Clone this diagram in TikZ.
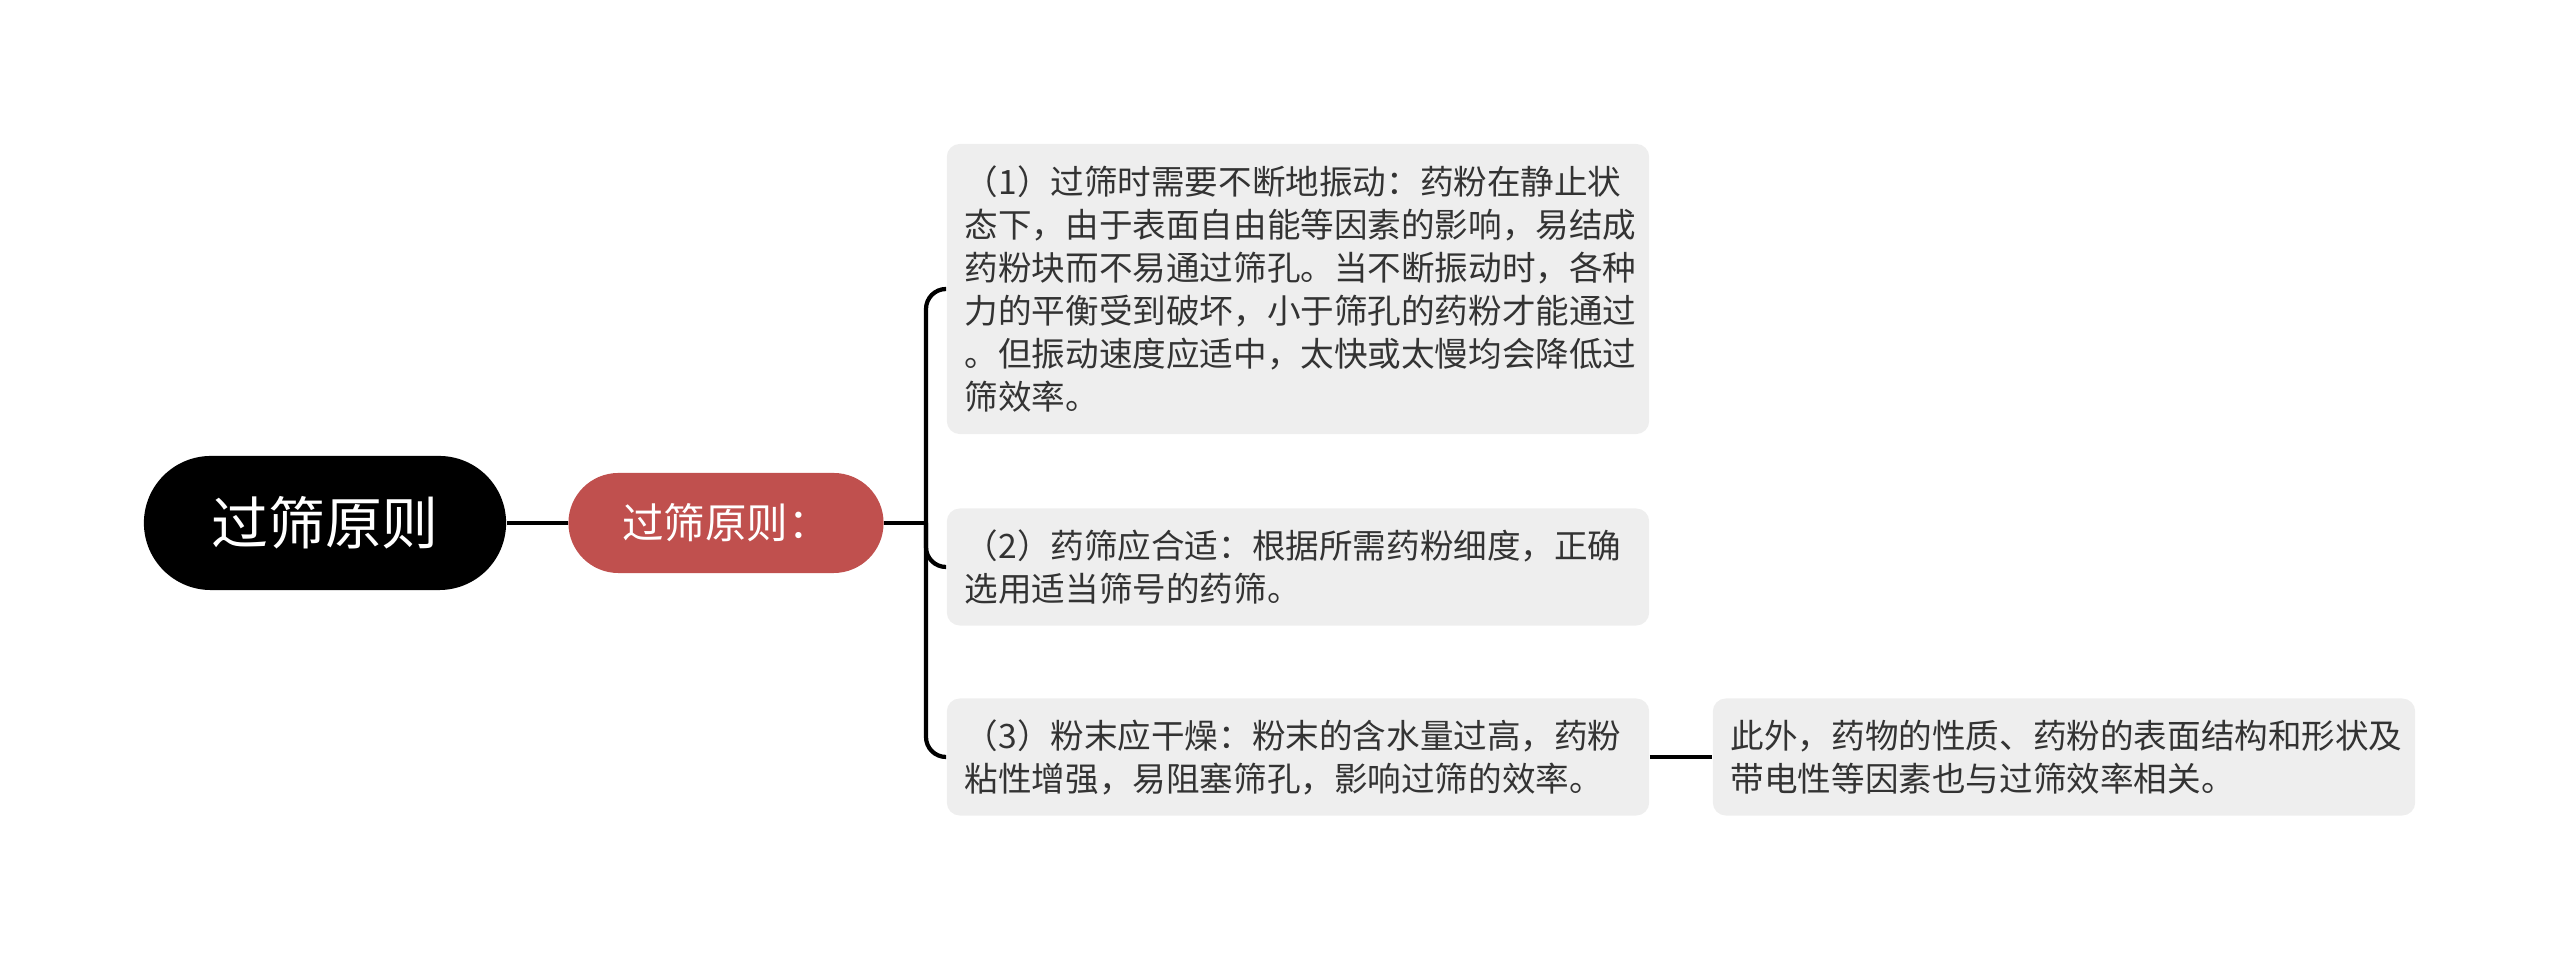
\documentclass[tikz,border=0pt]{standalone}
\usepackage{fontspec}
\setmainfont{Noto Sans CJK SC}
\usepackage{tikz}
\definecolor{subred}{RGB}{192,80,78}
\definecolor{boxgray}{RGB}{238,238,238}
\definecolor{boxtext}{RGB}{51,51,51}
\tikzset{
	rootstyle/.style={rectangle,rounded corners=0.67cm,fill=black,text=white,minimum width=3.62cm,minimum height=1.34cm,font=\fontsize{16.2pt}{19pt}\selectfont},
	substyle/.style={rectangle,rounded corners=0.5cm,fill=subred,text=white,minimum width=3.15cm,minimum height=1.0cm,font=\fontsize{11.8pt}{13pt}\selectfont},
	boxstyle/.style={rectangle,rounded corners=0.13cm,fill=boxgray,text=boxtext,minimum width=7.02cm,inner xsep=0.18cm,text width=6.66cm,align=left,font=\fontsize{9.55pt}{12.2pt}\selectfont},
	linkstyle/.style={line width=1.2pt,black}
}
\begin{document}
\begin{tikzpicture}[x=0.01cm,y=-0.01cm]
	\useasboundingbox (0,0) rectangle (2560,962);
	\node[rootstyle] (root) at (325,523) {过筛原则};
	\node[substyle] (sub) at (726,523) {过筛原则：};
	\node[boxstyle,minimum height=2.90cm] (b1) at (1298,289) {（1）过筛时需要不断地振动：药粉在静止状\\态下，由于表面自由能等因素的影响，易结成\\药粉块而不易通过筛孔。当不断振动时，各种\\力的平衡受到破坏，小于筛孔的药粉才能通过\\。但振动速度应适中，太快或太慢均会降低过\\筛效率。};
	\node[boxstyle,minimum height=1.17cm] (b2) at (1298,567) {（2）药筛应合适：根据所需药粉细度，正确\\选用适当筛号的药筛。};
	\node[boxstyle,minimum height=1.17cm] (b3) at (1298,757) {（3）粉末应干燥：粉末的含水量过高，药粉\\粘性增强，易阻塞筛孔，影响过筛的效率。};
	\node[boxstyle,minimum height=1.17cm] (b4) at (2064,757) {此外，药物的性质、药粉的表面结构和形状及\\带电性等因素也与过筛效率相关。};
	\coordinate (fork) at (926,523);
	\draw[linkstyle] (root.east)--(sub.west);
	\draw[linkstyle] (sub.east)--(fork);
	\draw[linkstyle,rounded corners=0.2cm] (fork)|-(b1.west);
	\draw[linkstyle,rounded corners=0.2cm] (fork)|-(b2.west);
	\draw[linkstyle,rounded corners=0.2cm] (fork)|-(b3.west);
	\draw[linkstyle] (b3.east)--(b4.west);
\end{tikzpicture}
\end{document}
